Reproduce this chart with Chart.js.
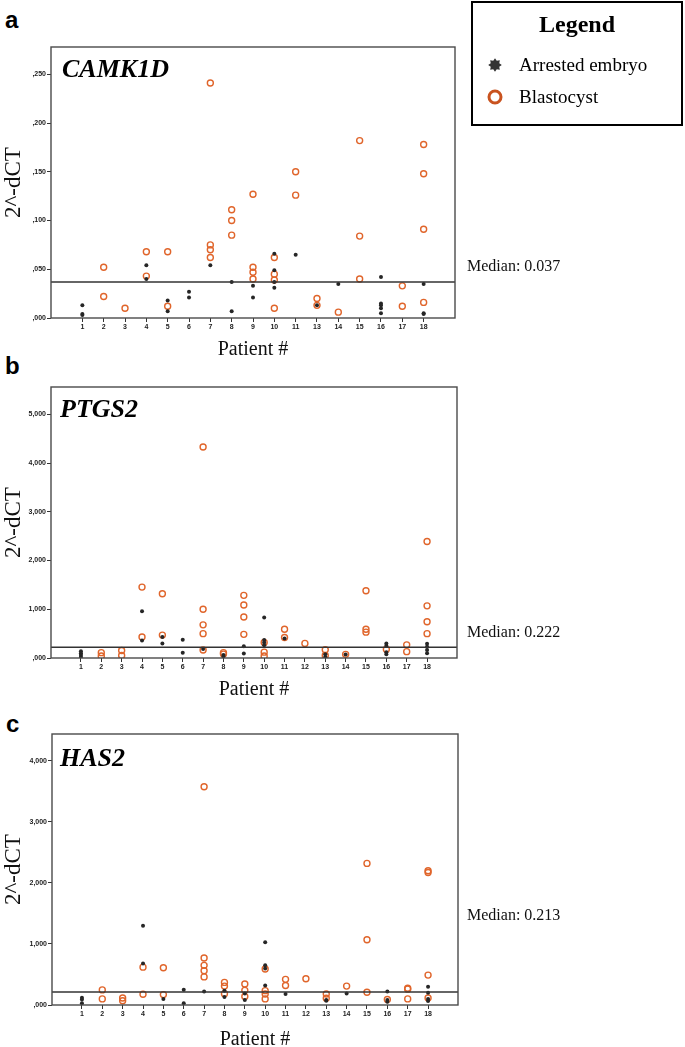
<!DOCTYPE html>
<html><head><meta charset="utf-8">
<script src="https://cdn.jsdelivr.net/npm/chart.js@4/dist/chart.umd.min.js"></script>
<style>
html,body{margin:0;padding:0;background:#fff;}
body{width:685px;height:1047px;position:relative;overflow:hidden;}
canvas{position:absolute;left:0;}
.txt{position:absolute;white-space:nowrap;color:#000;}
.letter{font-family:'Liberation Sans',Arial,sans-serif;font-weight:bold;font-size:24px;line-height:24px;}
.gene{font-family:'Liberation Serif','Times New Roman',serif;font-weight:bold;font-style:italic;font-size:26px;line-height:26px;}
.median{font-family:'Liberation Serif','Times New Roman',serif;font-size:16px;line-height:16px;color:#111;}
#legend{position:absolute;left:471px;top:1px;width:212px;height:125px;box-sizing:border-box;border:2px solid #000;font-family:'Liberation Serif','Times New Roman',serif;}
#legend .ttl{position:absolute;left:0;width:100%;top:8px;text-align:center;font-weight:bold;font-size:24px;line-height:26px;}
#legend .it{position:absolute;left:46px;font-size:19px;line-height:20px;}
#legend svg{position:absolute;left:8px;}
</style>
</head><body>

<div class="txt letter" style="left:5px;top:8px;">a</div>
<div class="txt letter" style="left:5px;top:354px;">b</div>
<div class="txt letter" style="left:6px;top:712px;">c</div>

<canvas id="chA"></canvas>
<canvas id="chB"></canvas>
<canvas id="chC"></canvas>

<div class="txt gene" style="left:62px;top:56px;">CAMK1D</div>
<div class="txt gene" style="left:60px;top:396px;">PTGS2</div>
<div class="txt gene" style="left:60px;top:745px;">HAS2</div>

<div class="txt median" style="left:467px;top:258px;">Median: 0.037</div>
<div class="txt median" style="left:467px;top:624px;">Median: 0.222</div>
<div class="txt median" style="left:467px;top:907px;">Median: 0.213</div>

<div id="legend">
  <div class="ttl">Legend</div>
  <svg width="28" height="28" style="top:48px;"><polygon id="star" fill="#333"></polygon></svg>
  <div class="it" style="top:52px;">Arrested embryo</div>
  <svg width="28" height="28" style="top:80px;"><circle cx="14" cy="14" r="6" fill="none" stroke="#C9531F" stroke-width="3"></circle></svg>
  <div class="it" style="top:84px;">Blastocyst</div>
</div>

<script>
// ---------- DATA ----------
const patientsA = ['1','2','3','4','5','6','7','8','9','10','11','13','14','15','16','17','18'];
const patientsBC = ['1','2','3','4','5','6','7','8','9','10','11','12','13','14','15','16','17','18'];

const camkArrested = [[0.013,0.004,0.003],[],[],[0.054,0.040],[0.018,0.007],[0.027,0.021],[0.054],[0.037,0.007],[0.033,0.021],[0.066,0.049,0.037,0.031],[0.065],[0.013],[0.035],[],[0.042,0.015,0.013,0.010,0.005],[],[0.035,0.005,0.004]];
const camkBlast = [[],[0.052,0.022],[0.010],[0.068,0.043],[0.068,0.012],[],[0.241,0.075,0.070,0.062],[0.111,0.100,0.085],[0.127,0.052,0.047,0.040],[0.062,0.045,0.039,0.010],[0.150,0.126],[0.020,0.013],[0.006],[0.182,0.084,0.040],[],[0.033,0.012],[0.178,0.148,0.091,0.016]];
const camkMedian = 0.037;
const camkTicks = [0,0.05,0.10,0.15,0.20,0.25];
const camkMax = 0.278;

const ptgsArrested = [[0.14,0.10,0.06,0.02],[],[],[0.96,0.36],[0.43,0.30],[0.375,0.11],[0.185],[0.06,0.03],[0.24,0.09],[0.83,0.37,0.32,0.26],[0.40],[],[0.075,0.02],[0.07],[],[0.30,0.25,0.12,0.075],[],[0.29,0.23,0.165,0.10]];
const ptgsBlast = [[],[0.11,0.04],[0.155,0.05],[1.455,0.43],[1.318,0.47],[],[4.33,1.00,0.68,0.50,0.165],[0.11,0.08],[1.285,1.087,0.84,0.485],[0.32,0.12,0.04],[0.59,0.42],[0.30],[0.17,0.05],[0.075],[1.38,0.59,0.53],[0.18],[0.27,0.13],[2.39,1.07,0.745,0.50]];
const ptgsMedian = 0.222;
const ptgsTicks = [0,1,2,3,4,5];
const ptgsMax = 5.56;

const has2Arrested = [[0.12,0.09,0.03],[],[],[1.30,0.68],[0.10],[0.25,0.03],[0.22],[0.235,0.13],[0.19,0.08],[1.03,0.65,0.60,0.32],[0.18],[],[0.08,0.07],[0.19],[],[0.22,0.08,0.055],[],[0.30,0.20,0.10,0.065]];
const has2Blast = [[],[0.247,0.10],[0.115,0.07],[0.62,0.175],[0.61,0.17],[],[3.575,0.77,0.65,0.56,0.46],[0.37,0.31,0.185],[0.345,0.24,0.14],[0.59,0.235,0.18,0.10],[0.42,0.32],[0.43],[0.18,0.11],[0.31],[2.32,1.07,0.21],[0.09],[0.275,0.26,0.10],[2.20,2.17,0.49,0.115]];
const has2Median = 0.213;
const has2Ticks = [0,1,2,3,4];
const has2Max = 4.44;

// ---------- helpers ----------
(function(){
  const pts=[];
  for(let i=0;i<16;i++){const r=i%2?4.6:6.8;const a=i*Math.PI/8-Math.PI/2;pts.push((14+r*Math.cos(a)).toFixed(2)+','+(14+r*Math.sin(a)).toFixed(2));}
  document.getElementById('star').setAttribute('points',pts.join(' '));
})();

function flat(groups){const out=[];groups.forEach((vals,i)=>vals.forEach(v=>out.push({x:i,y:v})));return out;}
function fmt(v){let s=Number(v).toFixed(3).replace('.',',');if(s.startsWith('0,'))s=s.slice(1);return s;}

const framePlugin={id:'frame',afterDraw(chart){
  const a=chart.chartArea,ctx=chart.ctx;ctx.save();ctx.strokeStyle='#4a4a4a';ctx.lineWidth=1.4;
  ctx.strokeRect(a.left,a.top,a.right-a.left,a.bottom-a.top);ctx.restore();}};
const medianPlugin={id:'median',afterDatasetsDraw(chart,args,opts){
  const a=chart.chartArea,ctx=chart.ctx;const y=chart.scales.y.getPixelForValue(opts.value);
  ctx.save();ctx.strokeStyle='#333';ctx.lineWidth=1.5;ctx.beginPath();ctx.moveTo(a.left,y);ctx.lineTo(a.right,y);ctx.stroke();ctx.restore();}};

function makeChart(id,g,labels,arrested,blast,yTicks,yMax,median){
  const cv=document.getElementById(id);
  cv.width=685;cv.height=g.height;cv.style.top=g.top+'px';cv.style.width='685px';cv.style.height=g.height+'px';
  const tickFont={family:'Liberation Sans',size:7,weight:'bold'};
  return new Chart(cv,{type:'scatter',
    data:{datasets:[
      {label:'Arrested embryo',data:flat(arrested),pointRadius:2,pointHoverRadius:2,pointBackgroundColor:'#262626',pointBorderColor:'#262626',pointBorderWidth:0},
      {label:'Blastocyst',data:flat(blast),pointRadius:3,pointHoverRadius:3,pointBackgroundColor:'rgba(255,255,255,0)',pointBorderColor:'#E0652B',pointBorderWidth:1.4}
    ]},
    options:{responsive:false,animation:false,events:[],
      layout:{padding:{left:0,top:g.areaTop-g.top,right:685-g.right,bottom:0}},
      plugins:{legend:{display:false},tooltip:{enabled:false},median:{value:median}},
      scales:{
        x:{type:'linear',min:-1.47,max:labels.length-1+1.47,
          afterBuildTicks:s=>{s.ticks=labels.map((_,i)=>({value:i}));},
          afterFit:s=>{s.height=g.height-(g.areaBottom-g.top);},
          ticks:{callback:v=>labels[v],autoSkip:false,maxRotation:0,minRotation:0,font:tickFont,color:'#222',padding:1},
          grid:{drawOnChartArea:false,drawTicks:true,tickLength:4,color:'#333',lineWidth:1},
          border:{display:false},
          title:{display:true,text:'Patient #',color:'#111',font:{family:'Liberation Serif',size:20,lineHeight:1.2},padding:{top:0,bottom:g.xTitlePad}}},
        y:{min:0,max:yMax,
          afterBuildTicks:s=>{s.ticks=yTicks.map(v=>({value:v}));},
          afterFit:s=>{s.width=g.left;},
          ticks:{callback:v=>fmt(v),font:tickFont,color:'#222',padding:1},
          grid:{drawOnChartArea:false,drawTicks:true,tickLength:4,color:'#333',lineWidth:1},
          border:{display:false},
          title:{display:true,text:'2^-dCT',color:'#111',font:{family:'Liberation Serif',size:23,lineHeight:1.1},padding:{top:1,bottom:0}}}
      }},
    plugins:[framePlugin,medianPlugin]});
}

makeChart('chA',{top:0,height:372,left:51,right:455,areaTop:47,areaBottom:318,xTitlePad:10},patientsA,camkArrested,camkBlast,camkTicks,camkMax,camkMedian);
makeChart('chB',{top:372,height:340,left:51,right:457,areaTop:387,areaBottom:658,xTitlePad:10},patientsBC,ptgsArrested,ptgsBlast,ptgsTicks,ptgsMax,ptgsMedian);
makeChart('chC',{top:712,height:345,left:52,right:458,areaTop:734,areaBottom:1005,xTitlePad:5},patientsBC,has2Arrested,has2Blast,has2Ticks,has2Max,has2Median);
</script>
</body></html>
